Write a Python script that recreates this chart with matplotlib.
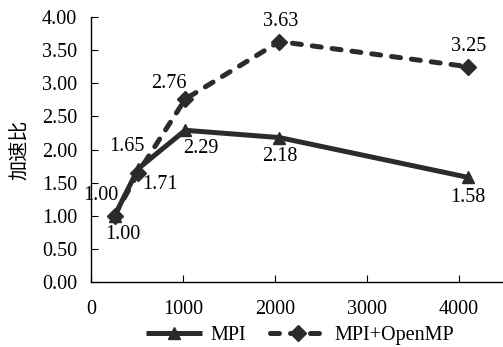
import matplotlib
matplotlib.use("Agg")
import matplotlib.pyplot as plt

x = [256, 512, 1024, 2048, 4096]
mpi = [1.00, 1.71, 2.29, 2.18, 1.58]
omp = [1.00, 1.65, 2.76, 3.63, 3.25]
series_names = ["MPI", "MPI+OpenMP"]
ylabel = "加速比"

plt.rcParams['font.family'] = ['Liberation Serif', 'Noto Sans CJK SC']
color = '#2b2b2b'

fig = plt.figure(figsize=(5.03, 3.47), dpi=100)
ax = fig.add_axes([91/503, 1-282/347, 1-91/503, (282-17)/347])

ax.plot(x, mpi, color=color, lw=3.6, marker='^', ms=9, label=series_names[0],
        solid_capstyle='butt', solid_joinstyle='miter')
ax.plot(x, omp, color=color, lw=3.6, ls=(0, (1.8, 2.2)), marker='D', ms=8,
        label=series_names[1], dash_capstyle='round')

ax.set_xlim(0, 4478)
ax.set_ylim(0, 4.0)
ax.set_xticks([0, 1000, 2000, 3000, 4000])
ax.set_yticks([0, 0.5, 1.0, 1.5, 2.0, 2.5, 3.0, 3.5, 4.0])
ax.set_yticklabels([f"{v:.2f}" for v in ax.get_yticks()])
for s in ['top', 'right']:
    ax.spines[s].set_visible(False)
for s in ['left', 'bottom']:
    ax.spines[s].set_color('black')
    ax.spines[s].set_linewidth(1.0)
ax.tick_params(direction='in', length=5, labelsize=14.5, colors='black', pad=10)
ax.tick_params(axis='x', pad=13)
ax.set_ylabel(ylabel, fontsize=14.5, family=['Noto Sans CJK SC'], labelpad=8)

omp_off = [(-14, 20), (-11, 26), (-16, 16), (1, 20), (1, 20)]
mpi_off = [(8, -19), (22, -16), (16, -18), (0, -19), (0, -20)]
for xi, yi, off in zip(x, omp, omp_off):
    ax.annotate(f"{yi:.2f}", (xi, yi), xytext=off, textcoords='offset pixels',
                ha='center', va='center', fontsize=14.5, annotation_clip=False)
for xi, yi, off in zip(x, mpi, mpi_off):
    ax.annotate(f"{yi:.2f}", (xi, yi), xytext=off, textcoords='offset pixels',
                ha='center', va='center', fontsize=14.5, annotation_clip=False)

fig.legend(loc='center', bbox_to_anchor=(300/503, 1-335/347), ncol=2, frameon=False,
           fontsize=14.5, handlelength=2.8, columnspacing=1.2, handletextpad=0.4,
           borderpad=0, borderaxespad=0)

fig.savefig("out.png", dpi=100)
